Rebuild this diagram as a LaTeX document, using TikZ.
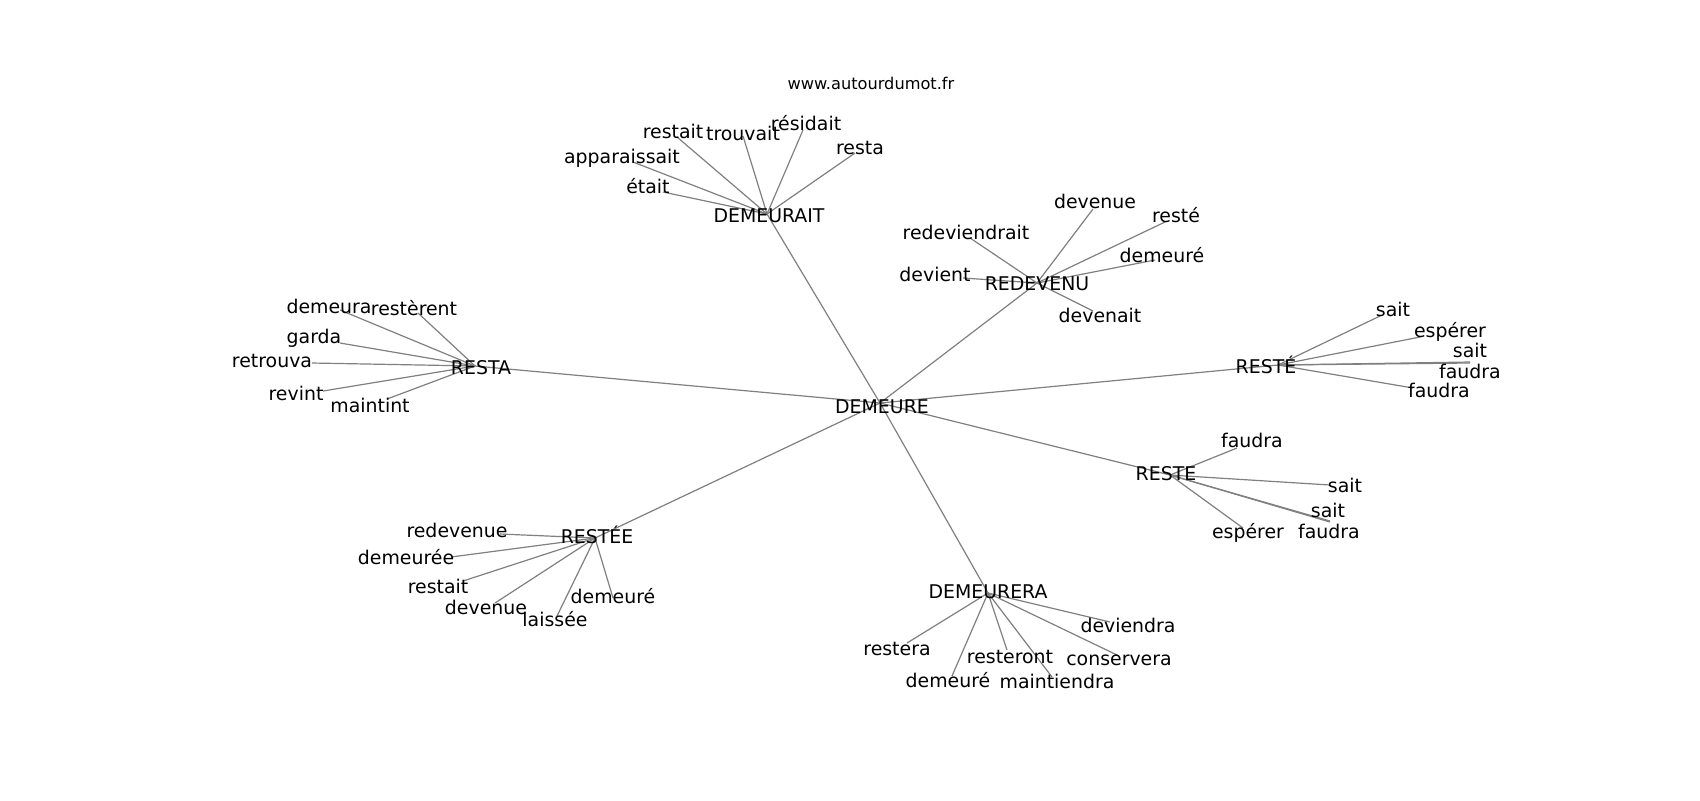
\documentclass[tikz,border=0pt]{standalone}
\usepackage{fontspec}
\setmainfont{DejaVu Sans}

\begin{document}
\begin{tikzpicture}[x=0.5pt,y=-0.5pt]
        \tikzset{word/.style={inner sep=0pt,text height=7.2pt,text depth=2.2pt,font=\fontsize{9.45}{11}\selectfont}}
        \tikzset{edge/.style={draw=gray,line width=0.6pt}}
        \fill [white] (0,0) rectangle (1700,800);
        \useasboundingbox (0,0) rectangle (1700,800);
        \node [inner sep=0pt,font=\fontsize{8.1}{10}\selectfont] (title) at (871,83) {www.autourdumot.fr};
        \coordinate (demeure) at (880,403);
        \coordinate (ait) at (767,214);
        \coordinate (venu) at (1037,283);
        \coordinate (resta) at (475,366);
        \coordinate (rest1) at (1278,365);
        \coordinate (reste) at (1170,475);
        \coordinate (restee) at (595,538);
        \coordinate (era) at (988,593);
        \coordinate (ait-restait) at (677,137);
        \coordinate (ait-trouvait) at (743,136);
        \coordinate (ait-residait) at (803,130);
        \coordinate (ait-resta) at (855,153);
        \coordinate (ait-apparaissait) at (633,162);
        \coordinate (ait-etait) at (663,192);
        \coordinate (venu-devenue) at (1093,209);
        \coordinate (venu-reste) at (1165,222);
        \coordinate (venu-demeure) at (1155,260);
        \coordinate (venu-redeviendrait) at (970,238);
        \coordinate (venu-devient) at (963,278);
        \coordinate (venu-devenait) at (1093,311);
        \coordinate (resta-demeura) at (340,310);
        \coordinate (resta-resterent) at (418,313);
        \coordinate (resta-garda) at (340,343);
        \coordinate (resta-retrouva) at (312,363);
        \coordinate (resta-revint) at (323,391);
        \coordinate (resta-maintint) at (387,399);
        \coordinate (rest1-sait) at (1380,316);
        \coordinate (rest1-esperer) at (1420,337);
        \coordinate (rest1-sait2) at (1470,362);
        \coordinate (rest1-faudra) at (1470,363);
        \coordinate (rest1-faudra2) at (1413,388);
        \coordinate (reste-faudra) at (1237,448);
        \coordinate (reste-sait) at (1330,485);
        \coordinate (reste-sait2) at (1330,521);
        \coordinate (reste-faudra2) at (1330,522);
        \coordinate (reste-esperer) at (1243,528);
        \coordinate (restee-redevenue) at (500,534);
        \coordinate (restee-demeuree) at (451,557);
        \coordinate (restee-restait) at (463,581);
        \coordinate (restee-devenue) at (495,603);
        \coordinate (restee-laissee) at (557,616);
        \coordinate (restee-demeure) at (613,598);
        \coordinate (era-deviendra) at (1110,622);
        \coordinate (era-conservera) at (1117,655);
        \coordinate (era-maintiendra) at (1052,677);
        \coordinate (era-resteront) at (1007,650);
        \coordinate (era-demeure) at (952,676);
        \coordinate (era-restera) at (907,643);
        \draw [edge] (demeure) -- (ait);
        \draw [edge] (demeure) -- (venu);
        \draw [edge] (demeure) -- (resta);
        \draw [edge] (demeure) -- (rest1);
        \draw [edge] (demeure) -- (reste);
        \draw [edge] (demeure) -- (restee);
        \draw [edge] (demeure) -- (era);
        \draw [edge] (ait) -- (ait-restait);
        \draw [edge] (ait) -- (ait-trouvait);
        \draw [edge] (ait) -- (ait-residait);
        \draw [edge] (ait) -- (ait-resta);
        \draw [edge] (ait) -- (ait-apparaissait);
        \draw [edge] (ait) -- (ait-etait);
        \draw [edge] (venu) -- (venu-devenue);
        \draw [edge] (venu) -- (venu-reste);
        \draw [edge] (venu) -- (venu-demeure);
        \draw [edge] (venu) -- (venu-redeviendrait);
        \draw [edge] (venu) -- (venu-devient);
        \draw [edge] (venu) -- (venu-devenait);
        \draw [edge] (resta) -- (resta-demeura);
        \draw [edge] (resta) -- (resta-resterent);
        \draw [edge] (resta) -- (resta-garda);
        \draw [edge] (resta) -- (resta-retrouva);
        \draw [edge] (resta) -- (resta-revint);
        \draw [edge] (resta) -- (resta-maintint);
        \draw [edge] (rest1) -- (rest1-sait);
        \draw [edge] (rest1) -- (rest1-esperer);
        \draw [edge] (rest1) -- (rest1-sait2);
        \draw [edge] (rest1) -- (rest1-faudra);
        \draw [edge] (rest1) -- (rest1-faudra2);
        \draw [edge] (reste) -- (reste-faudra);
        \draw [edge] (reste) -- (reste-sait);
        \draw [edge] (reste) -- (reste-sait2);
        \draw [edge] (reste) -- (reste-faudra2);
        \draw [edge] (reste) -- (reste-esperer);
        \draw [edge] (restee) -- (restee-redevenue);
        \draw [edge] (restee) -- (restee-demeuree);
        \draw [edge] (restee) -- (restee-restait);
        \draw [edge] (restee) -- (restee-devenue);
        \draw [edge] (restee) -- (restee-laissee);
        \draw [edge] (restee) -- (restee-demeure);
        \draw [edge] (era) -- (era-deviendra);
        \draw [edge] (era) -- (era-conservera);
        \draw [edge] (era) -- (era-maintiendra);
        \draw [edge] (era) -- (era-resteront);
        \draw [edge] (era) -- (era-demeure);
        \draw [edge] (era) -- (era-restera);
        \node [word] (demeure-w) at (882,408) {DEMEURE};
        \node [word] (ait-w) at (769,217) {DEMEURAIT};
        \node [word] (venu-w) at (1037,285) {REDEVENU};
        \node [word] (resta-w) at (481,369) {RESTA};
        \node [word] (rest1-w) at (1266,368) {RESTÉ};
        \node [word] (reste-w) at (1166,475) {RESTE};
        \node [word] (restee-w) at (597,538) {RESTÉE};
        \node [word] (era-w) at (988,593) {DEMEURERA};
        \node [word] (ait-restait-w) at (673,133) {restait};
        \node [word] (ait-trouvait-w) at (743,135) {trouvait};
        \node [word] (ait-residait-w) at (806,125) {résidait};
        \node [word] (ait-resta-w) at (860,149) {resta};
        \node [word] (ait-apparaissait-w) at (622,158) {apparaissait};
        \node [word] (ait-etait-w) at (648,188) {était};
        \node [word] (venu-devenue-w) at (1095,203) {devenue};
        \node [word] (venu-reste-w) at (1176,217) {resté};
        \node [word] (venu-demeure-w) at (1162,257) {demeuré};
        \node [word] (venu-redeviendrait-w) at (966,234) {redeviendrait};
        \node [word] (venu-devient-w) at (935,276) {devient};
        \node [word] (venu-devenait-w) at (1100,317) {devenait};
        \node [word] (resta-demeura-w) at (329,308) {demeura};
        \node [word] (resta-resterent-w) at (414,310) {restèrent};
        \node [word] (resta-garda-w) at (314,338) {garda};
        \node [word] (resta-retrouva-w) at (272,362) {retrouva};
        \node [word] (resta-revint-w) at (296,395) {revint};
        \node [word] (resta-maintint-w) at (370,407) {maintint};
        \node [word] (rest1-sait-w) at (1393,311) {sait};
        \node [word] (rest1-esperer-w) at (1450,332) {espérer};
        \node [word] (rest1-sait2-w) at (1470,352) {sait};
        \node [word] (rest1-faudra-w) at (1470,373) {faudra};
        \node [word] (rest1-faudra2-w) at (1439,392) {faudra};
        \node [word] (reste-faudra-w) at (1252,442) {faudra};
        \node [word] (reste-sait-w) at (1345,487) {sait};
        \node [word] (reste-sait2-w) at (1328,512) {sait};
        \node [word] (reste-faudra2-w) at (1329,533) {faudra};
        \node [word] (reste-esperer-w) at (1248,533) {espérer};
        \node [word] (restee-redevenue-w) at (457,532) {redevenue};
        \node [word] (restee-demeuree-w) at (406,559) {demeurée};
        \node [word] (restee-restait-w) at (438,588) {restait};
        \node [word] (restee-devenue-w) at (486,609) {devenue};
        \node [word] (restee-laissee-w) at (555,621) {laissée};
        \node [word] (restee-demeure-w) at (613,598) {demeuré};
        \node [word] (era-deviendra-w) at (1128,627) {deviendra};
        \node [word] (era-conservera-w) at (1119,660) {conservera};
        \node [word] (era-maintiendra-w) at (1057,683) {maintiendra};
        \node [word] (era-resteront-w) at (1010,658) {resteront};
        \node [word] (era-demeure-w) at (948,682) {demeuré};
        \node [word] (era-restera-w) at (897,650) {restera};
\end{tikzpicture}
\end{document}
